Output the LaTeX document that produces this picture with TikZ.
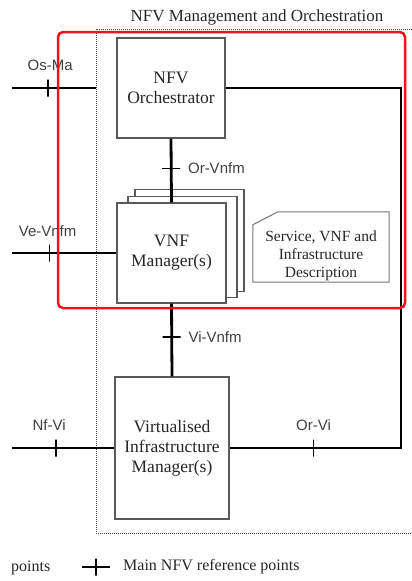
\documentclass[tikz,border=0pt]{standalone}
\usepackage{fontspec}
\setmainfont{Liberation Serif}
\newfontfamily\lblfont{Liberation Sans}
\usetikzlibrary{positioning}
\definecolor{hired}{RGB}{232,22,28}

\begin{document}
\begin{tikzpicture}[x=1pt, y=-1pt, every node/.style={text=black!85}]
\tikzset{block/.style={draw=black!65, line width=1.1pt, fill=white, align=center,
  inner sep=0pt, font=\fontsize{17.5}{20}\selectfont},
  link/.style={line width=2.8pt, line join=miter},
  tickv/.style={draw, line width=1.3pt, inner sep=0pt, minimum width=0pt, minimum height=17pt},
  tickh/.style={draw, line width=1.3pt, inner sep=0pt, minimum height=0pt, minimum width=18pt},
  refname/.style={font=\lblfont\fontsize{15}{17}\selectfont, text=black!75, inner sep=1pt},
  descshape/.style={minimum width=136pt, minimum height=70pt, inner sep=0pt},
  desctext/.style={align=center, inner sep=0pt, font=\fontsize{15.5}{18}\selectfont},
  legend/.style={inner sep=0pt, font=\fontsize{16}{18}\selectfont}}
\useasboundingbox (0,0) rectangle (412,581);

\node[font=\fontsize{17}{20}\selectfont] (mano-title) at (257,17) {NFV Management and Orchestration};
\draw[draw=black!70, line width=1pt, densely dotted] (412,29) -- (96,29) -- (96,533) -- (412,533);

\node[block, minimum width=108pt, minimum height=100pt] (orch) at (171,88) {NFV\\Orchestrator};
\node[block, minimum width=109pt, minimum height=102pt] (vnf-back2) at (189.5,240.5) {};
\node[block, minimum width=109pt, minimum height=101pt] (vnf-back1) at (182.5,247) {};
\node[block, minimum width=109pt, minimum height=100pt] (vnf) at (171.5,253) {VNF\\Manager(s)};
\node[block, minimum width=114pt, minimum height=142pt] (vim) at (172,448) {Virtualised\\Infrastructure\\Manager(s)};

\node[descshape] (desc-box) at (321,247) {};
\node[desctext] (desc) at (321,256) {Service, VNF and\\Infrastructure\\Description};
\draw[draw=black!55, line width=1pt] ([xshift=25pt]desc-box.north west) -- (desc-box.north east)
  -- (desc-box.south east) -- (desc-box.south west) -- ([yshift=-13pt]desc-box.north west) -- cycle;

\coordinate (osma-out) at (12,88);
\coordinate (osma-in) at (96,88);
\coordinate (vevnfm-out) at (12,253);
\coordinate (nfvi-out) at (12,448);
\coordinate (rt) at (401,448);

\draw[link] (osma-out) -- node[tickv, pos=0.43] (t-osma) {} (osma-in);
\draw[link] (vevnfm-out) -- node[tickv, pos=0.36] (t-vevnfm) {} (vnf.west);
\draw[link] (nfvi-out) -- node[tickv, pos=0.43] (t-nfvi) {} (vim.west);
\draw[link] (orch.south) -- node[tickh, pos=0.47] (t-orvnfm) {} (vnf.north);
\draw[link] (vnf.south) -- node[tickh, pos=0.46] (t-vivnfm) {} (vim.north);
\draw[link] (orch.east) -| (rt) -- node[tickv, pos=0.51] (t-orvi) {} (vim.east);

\node[refname, above=7pt of t-osma, xshift=2pt] (l-osma) {Os-Ma};
\node[refname, above=6.5pt of t-vevnfm, xshift=-2pt] (l-vevnfm) {Ve-Vnfm};
\node[refname, above=7.5pt of t-nfvi, xshift=-7pt] (l-nfvi) {Nf-Vi};
\node[refname, above=7.5pt of t-orvi] (l-orvi) {Or-Vi};
\node[refname, right=6pt of t-orvnfm] (l-orvnfm) {Or-Vnfm};
\node[refname, right=6pt of t-vivnfm] (l-vivnfm) {Vi-Vnfm};

\node[legend, anchor=west] (leg-other) at (11,568) {points};
\coordinate (leg-a) at (82,567);
\coordinate (leg-b) at (110,567);
\draw[line width=2.4pt] (leg-a) -- node[tickv] (leg-tick) {} (leg-b);
\node[legend, right=13pt of leg-b] (leg-main) {Main NFV reference points};

\draw[hired, line width=2.5pt, rounded corners=5pt] (58,32) rectangle (405,308);
\end{tikzpicture}
\end{document}
